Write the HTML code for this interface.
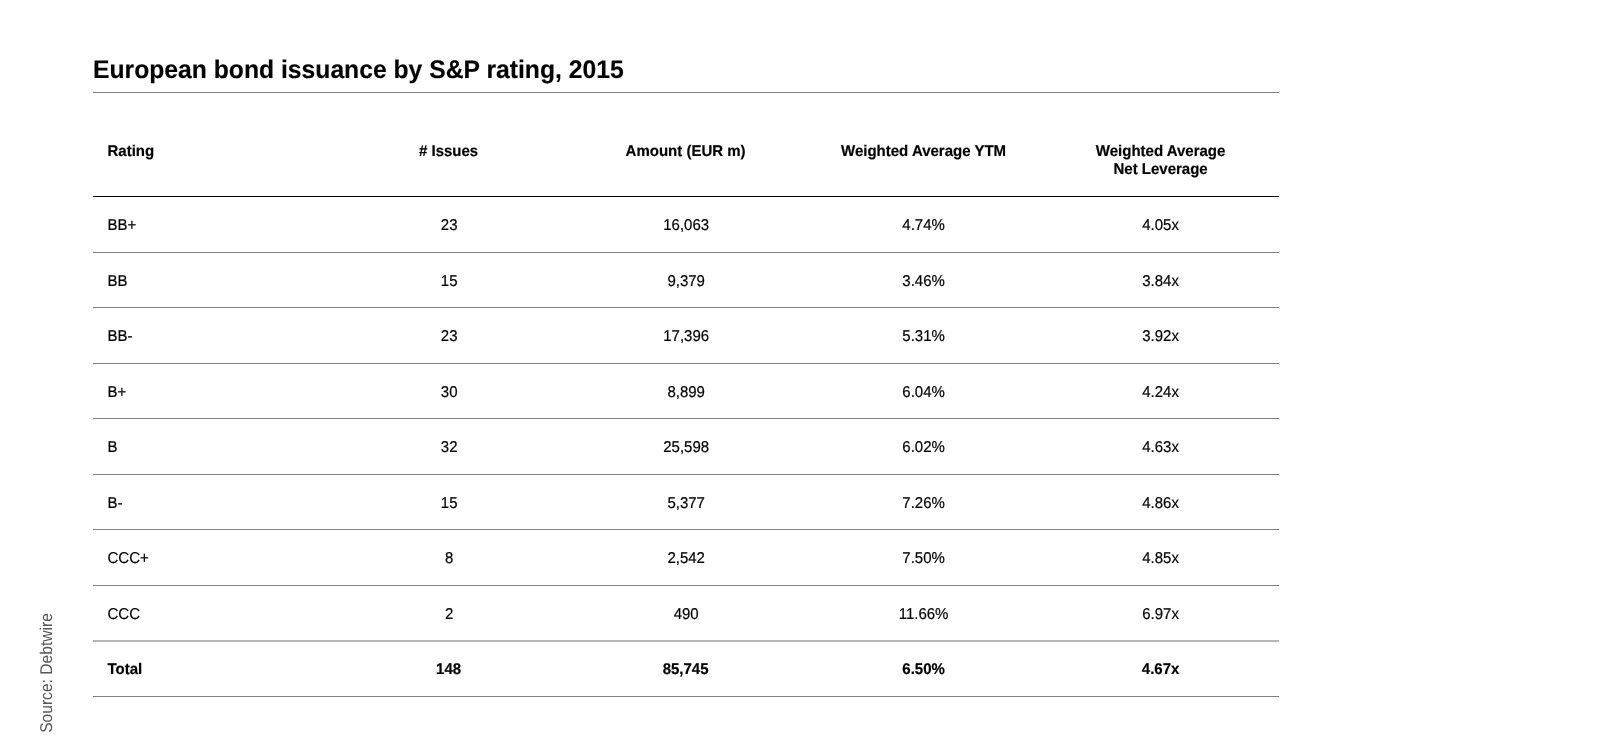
<!DOCTYPE html>
<html>
<head>
<meta charset="utf-8">
<title>European bond issuance by S&amp;P rating, 2015</title>
<style>
  html, body { margin: 0; padding: 0; background: #ffffff; }
  body { width: 1600px; height: 750px; position: relative; overflow: hidden; filter: grayscale(1);
         font-family: "Liberation Sans", sans-serif; color: #111; text-rendering: geometricPrecision; }
  .title { position: absolute; left: 92.6px; top: 55px; font-size: 25.5px; font-weight: bold;
           line-height: 30px; white-space: nowrap; color: #000; -webkit-text-stroke: 0.15px #000;
           transform: scaleX(0.9685); transform-origin: 0 50%; }
  .rule { position: absolute; left: 93px; width: 1186px; height: 1px; background: #808080; }
  .rule.dark { background: #000; }
  .rule.soft { height: 2px; background: #b6b6b6; }
  .row { position: absolute; left: 93px; width: 1186px; display: flex; line-height: 18px; color: #000;
         font-size: 15.7px; -webkit-text-stroke: 0.2px #000; }
  .row div { width: 237.2px; text-align: center; box-sizing: border-box; white-space: nowrap;
             transform: scaleX(0.955); transform-origin: 50% 50%; }
  .row div:first-child { text-align: left; padding-left: 14.5px; transform-origin: 14.5px 50%; }
  .row div:nth-child(2), .row div:nth-child(3) { transform: translateX(0.6px) scaleX(0.955); }
  .row.b { font-size: 15.5px; font-weight: bold; }
  .row.b div { transform: scaleX(0.968); }
  .src { position: absolute; left: 47.2px; top: 673px; width: 0; height: 0; }
  .src span { position: absolute; display: block; white-space: nowrap; font-size: 17px; line-height: 20px;
              color: #555; transform: translate(-50%, -50%) rotate(-90deg) scaleX(0.918); }
</style>
</head>
<body>
<div class="title">European bond issuance by S&amp;P rating, 2015</div>
<div class="rule" style="top:92px"></div>

<div class="row b" style="top:143px"><div>Rating</div><div># Issues</div><div>Amount (EUR m)</div><div>Weighted Average YTM</div><div>Weighted Average<br>Net Leverage</div></div>
<div class="rule dark" style="top:196px"></div>

<div class="row" style="top:217px"><div>BB+</div><div>23</div><div>16,063</div><div>4.74%</div><div>4.05x</div></div>
<div class="rule" style="top:252px"></div>
<div class="row" style="top:273px"><div>BB</div><div>15</div><div>9,379</div><div>3.46%</div><div>3.84x</div></div>
<div class="rule" style="top:307px"></div>
<div class="row" style="top:328px"><div>BB-</div><div>23</div><div>17,396</div><div>5.31%</div><div>3.92x</div></div>
<div class="rule" style="top:363px"></div>
<div class="row" style="top:384px"><div>B+</div><div>30</div><div>8,899</div><div>6.04%</div><div>4.24x</div></div>
<div class="rule" style="top:418px"></div>
<div class="row" style="top:439px"><div>B</div><div>32</div><div>25,598</div><div>6.02%</div><div>4.63x</div></div>
<div class="rule" style="top:474px"></div>
<div class="row" style="top:495px"><div>B-</div><div>15</div><div>5,377</div><div>7.26%</div><div>4.86x</div></div>
<div class="rule" style="top:529px"></div>
<div class="row" style="top:550px"><div>CCC+</div><div>8</div><div>2,542</div><div>7.50%</div><div>4.85x</div></div>
<div class="rule" style="top:585px"></div>
<div class="row" style="top:606px"><div>CCC</div><div>2</div><div>490</div><div>11.66%</div><div>6.97x</div></div>
<div class="rule soft" style="top:640px"></div>
<div class="row b" style="top:661px"><div>Total</div><div>148</div><div>85,745</div><div>6.50%</div><div>4.67x</div></div>
<div class="rule" style="top:696px"></div>

<div class="src"><span>Source: Debtwire</span></div>
</body>
</html>
